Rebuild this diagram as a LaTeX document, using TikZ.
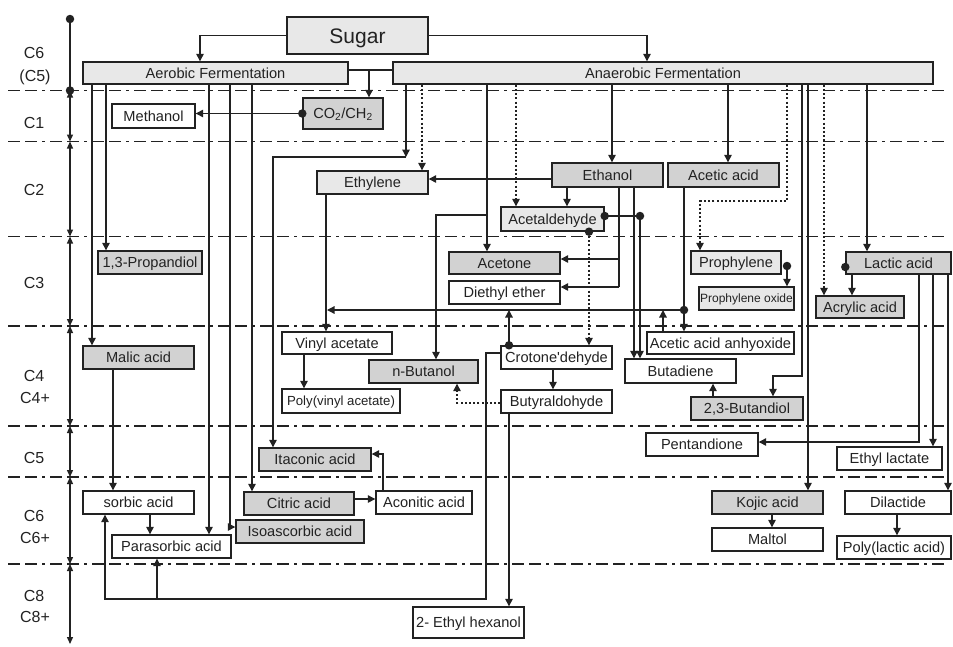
\documentclass[tikz,border=0pt]{standalone}
\usepackage{fontspec}
\setmainfont{Liberation Sans}
\usetikzlibrary{arrows.meta}
\definecolor{lc}{HTML}{222222}
\definecolor{txt}{HTML}{222222}
\definecolor{lightg}{HTML}{E8E8E8}
\definecolor{darkg}{HTML}{D2D2D2}
\newcommand\mkbox[7]{\node[#6, minimum width={(#4)-(#2)}, minimum height={(#5)-(#3)}] (#1) at ({((#2)+(#4))/2},{((#3)+(#5))/2}) {#7};}
\begin{document}
\begin{tikzpicture}[x=1pt,y=-1pt,
  ln/.style={line width=1.3pt, draw=lc},
  arr/.style={ln, -{Triangle[length=7.5pt,width=7.5pt]}},
  darr/.style={arr, dash pattern=on 2pt off 2.2pt},
  dbl/.style={ln, {Triangle[length=7pt,width=6pt]}-{Triangle[length=7pt,width=6pt]}},
  box/.style={draw=lc, line width=1.4pt, inner sep=0pt, font=\fontsize{14.6}{16}\selectfont, text=txt, text height=10.5pt, text depth=0pt},
  lightb/.style={box, fill=lightg},
  darkb/.style={box, fill=darkg},
  whiteb/.style={box, fill=white},
  dot/.style={circle, fill=lc, inner sep=0pt, minimum size=8.5pt},
  grid/.style={line width=1.1pt, draw=lc, dash pattern=on 12pt off 5pt on 12pt off 5pt on 3pt off 5pt},
  lab/.style={font=\fontsize{16}{18}\selectfont, text=txt, inner sep=0pt, text height=11.5pt, text depth=0pt}
]
\useasboundingbox (0,0) rectangle (953,646);

% band separators
\foreach \yy in {90.5,141.5,236.5,326,426,477,564} \draw[grid] (8,\yy) -- (945,\yy);

% axis
\node[dot] (ax0) at (70,19) {};
\node[dot] (ax1) at (70,90.5) {};
\coordinate (ax2) at (70,141.5);
\coordinate (ax3) at (70,236.5);
\coordinate (ax4) at (70,326);
\coordinate (ax5) at (70,426);
\coordinate (ax6) at (70,477);
\coordinate (ax7) at (70,564);
\coordinate (ax8) at (70,644);
\draw[ln] (ax0.center) -- (ax1.center);
\draw[dbl] (ax1.center) -- (ax2);
\draw[dbl] (ax2) -- (ax3);
\draw[dbl] (ax3) -- (ax4);
\draw[dbl] (ax4) -- (ax5);
\draw[dbl] (ax5) -- (ax6);
\draw[dbl] (ax6) -- (ax7);
\draw[dbl] (ax7) -- (ax8);

\node[lab] (lA) at (34,53) {C6};
\node[lab] (lB) at (35,76) {(C5)};
\node[lab] (lC) at (34,123) {C1};
\node[lab] (lD) at (34,190) {C2};
\node[lab] (lE) at (34,283) {C3};
\node[lab] (lF) at (34,376) {C4};
\node[lab] (lG) at (35,397.5) {C4+};
\node[lab] (lH) at (34,457.5) {C5};
\node[lab] (lI) at (34,516) {C6};
\node[lab] (lJ) at (35,537.5) {C6+};
\node[lab] (lK) at (34,595.5) {C8};
\node[lab] (lL) at (35,616.7) {C8+};

% boxes
\mkbox{Sugar}{287}{17}{428}{54}{lightb, font=\fontsize{21}{24}\selectfont, text height=15pt}{Sugar}
\mkbox{Aerobic}{83}{62}{348}{84}{lightb}{Aerobic Fermentation}
\mkbox{Anaerobic}{393}{62}{933}{84}{lightb}{Anaerobic Fermentation}
\mkbox{Methanol}{112}{104}{195}{128}{whiteb}{Methanol}
\mkbox{CO2}{303}{98}{383}{129}{darkb}{CO\textsubscript{2}/CH\textsubscript{2}}
\mkbox{Ethylene}{317}{171}{428}{194}{lightb}{Ethylene}
\mkbox{Ethanol}{552}{163}{663}{187}{darkb}{Ethanol}
\mkbox{AceticAcid}{668}{163}{779}{187}{darkb}{Acetic acid}
\mkbox{Acetaldehyde}{501}{207}{604}{231}{lightb}{Acetaldehyde}
\mkbox{Propandiol}{98}{251}{202}{274}{darkb}{1,3-Propandiol}
\mkbox{Acetone}{449}{252}{560}{274}{darkb}{Acetone}
\mkbox{Diethyl}{449}{281}{560}{304}{whiteb}{Diethyl ether}
\mkbox{Prophylene}{691}{251}{781}{274}{lightb}{Prophylene}
\mkbox{PropOxide}{699}{287}{794}{310}{lightb, font=\fontsize{12}{14}\selectfont, text height=8.6pt}{Prophylene oxide}
\mkbox{Lactic}{846}{252}{951}{274}{darkb}{Lactic acid}
\mkbox{Acrylic}{816}{296}{904}{318}{darkb}{Acrylic acid}
\mkbox{Malic}{83}{346}{194}{369}{darkb}{Malic acid}
\mkbox{Vinyl}{282}{332}{392}{354}{whiteb}{Vinyl acetate}
\mkbox{PolyVinyl}{282}{389}{400}{413}{whiteb, font=\fontsize{13.2}{15}\selectfont, text height=9.5pt}{Poly(vinyl acetate)}
\mkbox{nButanol}{369}{360}{478}{383}{darkb}{n-Butanol}
\mkbox{Crotone}{501}{346}{612}{369}{whiteb}{Crotone\textquotesingle dehyde}
\mkbox{Butyr}{501}{390}{612}{413}{whiteb}{Butyraldohyde}
\mkbox{Anhyoxide}{647}{332}{794}{354}{whiteb}{Acetic acid anhyoxide}
\mkbox{Butadiene}{625}{359}{736}{383}{whiteb}{Butadiene}
\mkbox{Butandiol}{691}{397}{803}{420}{darkb}{2,3-Butandiol}
\mkbox{Itaconic}{259}{448}{371}{471}{darkb}{Itaconic acid}
\mkbox{Pentandione}{646}{433}{758}{456}{whiteb}{Pentandione}
\mkbox{EthylLactate}{837}{447}{942}{470}{whiteb}{Ethyl lactate}
\mkbox{Sorbic}{83}{491}{194}{514}{whiteb}{sorbic acid}
\mkbox{Citric}{244}{492}{354}{515}{darkb}{Citric acid}
\mkbox{Aconitic}{376}{491}{472}{514}{whiteb}{Aconitic acid}
\mkbox{Isoascorbic}{236}{520}{364}{543}{darkb}{Isoascorbic acid}
\mkbox{Parasorbic}{112}{535}{231}{558}{whiteb}{Parasorbic acid}
\mkbox{Kojic}{712}{491}{823}{514}{darkb}{Kojic acid}
\mkbox{Maltol}{712}{528}{823}{551}{whiteb}{Maltol}
\mkbox{Dilactide}{845}{491}{951}{514}{whiteb}{Dilactide}
\mkbox{PolyLactic}{837}{536}{951}{559}{whiteb}{Poly(lactic acid)}
\mkbox{EthylHex}{413}{607}{524}{638}{whiteb}{2- Ethyl hexanol}

% Sugar
\draw[arr] (Sugar.west) -| (Aerobic.north -| 200,0);
\draw[arr] (Sugar.east) -| (Anaerobic.north -| 647,0);
\coordinate (jCO) at (369,70);
\draw[ln] (Aerobic.east |- jCO) -- (Anaerobic.west |- jCO);
\draw[arr] (jCO) -- (CO2.north -| jCO);
\node[dot] (dCO) at (CO2.west) {};
\draw[arr] (dCO.center) -- (Methanol.east |- dCO.center);

% aerobic branches
\foreach \xx/\tg in {92/Malic,106/Propandiol,209/Parasorbic,252/Citric}
  \draw[arr] (Aerobic.south -| \xx,0) -- (\tg.north -| \xx,0);
\draw[arr] (Aerobic.south -| 230,0) |- (Isoascorbic.west |- 0,527);

% anaerobic branches
\coordinate (jA) at (406,157);
\draw[arr] (Anaerobic.south -| jA) -- (jA);
\draw[arr] (jA) -| (Itaconic.north -| 273,0);
\draw[darr] (Anaerobic.south -| 422,0) -- (Ethylene.north -| 422,0);
\coordinate (jB) at (487,215);
\draw[arr] (Anaerobic.south -| jB) -- (Acetone.north -| jB);
\draw[arr] (jB) -| (nButanol.north -| 436,0);
\draw[darr] (Anaerobic.south -| 516,0) -- (Acetaldehyde.north -| 516,0);
\draw[arr] (Anaerobic.south -| 612,0) -- (Ethanol.north -| 612,0);
\draw[arr] (Anaerobic.south -| 728,0) -- (AceticAcid.north -| 728,0);
\coordinate (jP) at (700,201);
\draw[darr] (Anaerobic.south -| 787,0) |- (jP) -- (Prophylene.north -| jP);
\coordinate (jD) at (773,376);
\draw[arr] (Anaerobic.south -| 802,0) |- (jD) -- (Butandiol.north -| jD);
\draw[arr] (Anaerobic.south -| 808,0) -- (Kojic.north -| 808,0);
\draw[darr] (Anaerobic.south -| 824,0) -- (Acrylic.north -| 824,0);
\draw[arr] (Anaerobic.south -| 867,0) -- (Lactic.north -| 867,0);

% ethanol
\draw[arr] (Ethanol.west |- 0,179) -- (Ethylene.east |- 0,179);
\draw[arr] (Ethanol.south -| 567,0) -- (Acetaldehyde.north -| 567,0);
\coordinate (jE1) at (619,259);
\coordinate (jE2) at (619,287);
\draw[ln] (Ethanol.south -| jE2) -- (jE2);
\draw[arr] (jE1) -- (Acetone.east |- jE1);
\draw[arr] (jE2) -- (Diethyl.east |- jE2);
\draw[arr] (Ethanol.south -| 634,0) -- (Butadiene.north -| 634,0);

% acetaldehyde
\node[dot] (dAc1) at (Acetaldehyde.east |- 0,216) {};
\node[dot] (dAc2) at (640,216) {};
\draw[ln] (dAc1.center) -- (dAc2.center);
\draw[arr] (dAc2.center) -- (Butadiene.north -| dAc2);
\node[dot] (dAc3) at (Acetaldehyde.south -| 589,0) {};
\draw[darr] (dAc3.center) -- (Crotone.north -| dAc3);

% acetic acid
\node[dot] (dAa) at (684,310) {};
\draw[arr] (AceticAcid.south -| dAa) -- (Anhyoxide.north -| dAa);
\coordinate (jV) at (327,310);
\draw[arr] (dAa.center) -- (jV);
\draw[arr] (Ethylene.south -| 326,0) -- (Vinyl.north -| 326,0);
\coordinate (jH1) at (663,310);
\draw[arr] (Anhyoxide.north -| jH1) -- (jH1);

% crotonaldehyde
\node[dot] (dCr) at (Crotone.north -| 509,0) {};
\coordinate (jH2) at (509,310);
\draw[arr] (dCr.center) -- (jH2);
\coordinate (jC1) at (486,353);
\coordinate (jC2) at (486,599);
\coordinate (jC3) at (157,599);
\draw[arr] (Crotone.west |- jC1) -- (jC1) -- (jC2) -| (Sorbic.south -| 105,0);
\draw[arr] (jC3) -- (Parasorbic.south -| jC3);
\draw[arr] (Crotone.south -| 553,0) -- (Butyr.north -| 553,0);
\draw[darr] (Butyr.west |- 0,403) -| (nButanol.south -| 457,0);
\draw[arr] (Butyr.south -| 509,0) -- (EthylHex.north -| 509,0);

% left side
\draw[arr] (Vinyl.south -| 304,0) -- (PolyVinyl.north -| 304,0);
\draw[arr] (Malic.south -| 113,0) -- (Sorbic.north -| 113,0);
\draw[arr] (Sorbic.south -| 150,0) -- (Parasorbic.north -| 150,0);
\draw[arr] (Citric.east |- 0,499) -- (Aconitic.west |- 0,499);
\draw[arr] (Aconitic.north -| 383,0) |- (Itaconic.east |- 0,454);

% right side
\node[dot] (dPr) at (787,266) {};
\draw[arr] (dPr.center) -- (PropOxide.north -| dPr);
\node[dot] (dLa) at (Lactic.west |- 0,267) {};
\draw[arr] (Lactic.south -| 852,0) -- (Acrylic.north -| 852,0);
\draw[arr] (Lactic.south -| 919,0) |- (Pentandione.east |- 0,442);
\draw[arr] (Lactic.south -| 933,0) -- (EthylLactate.north -| 933,0);
\draw[arr] (Lactic.south -| 948,0) -- (Dilactide.north -| 948,0);
\draw[arr] (Butandiol.north -| 713,0) -- (Butadiene.south -| 713,0);
\draw[arr] (Kojic.south -| 772,0) -- (Maltol.north -| 772,0);
\draw[arr] (Dilactide.south -| 897,0) -- (PolyLactic.north -| 897,0);
\end{tikzpicture}
\end{document}
